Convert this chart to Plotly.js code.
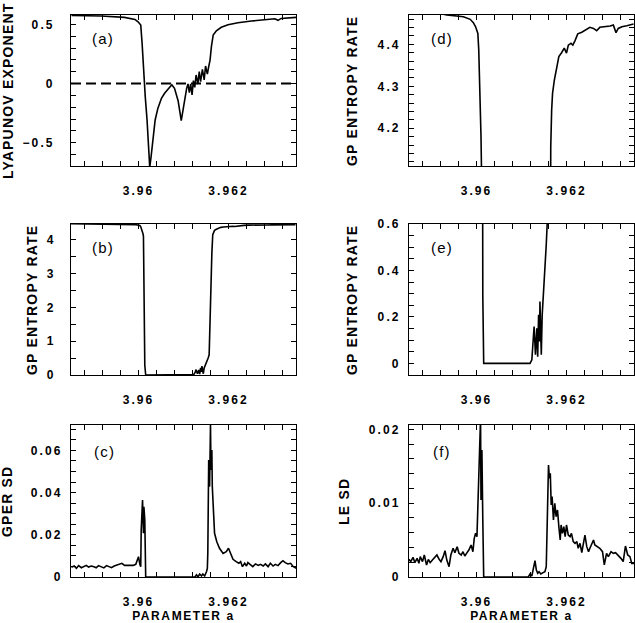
<!DOCTYPE html>
<html>
<head>
<meta charset="utf-8">
<script src="https://cdn.plot.ly/plotly-3.0.1.min.js"></script>
<style>
  html, body { margin: 0; padding: 0; background: #fff; }
  #chart { width: 635px; height: 623px; }
  g[class$="tick"] > text { letter-spacing: 2.1px; }
  text[class$="title"] { letter-spacing: 1.6px; }
  .annotation-text { letter-spacing: 1.2px; }
</style>
</head>
<body>
<div id="chart"></div>
<script>
// ---- x tick spacing (shared) ----
const xMajorStep = 0.002;
const xMinorStep = 0.0004;

// ---- (a) Lyapunov exponent ----
const lyapX = [3.95851, 3.95917, 3.95969, 3.95992, 3.95999, 3.96005, 3.96008, 3.96012, 3.96015, 3.96019,
  3.96022, 3.96025, 3.96028, 3.96032, 3.96037, 3.96043, 3.96051, 3.96058, 3.96066, 3.96074,
  3.96080, 3.96088, 3.96095, 3.96099, 3.96103, 3.96107, 3.96110, 3.96113, 3.96116, 3.96119,
  3.96122, 3.96125, 3.96128, 3.96132, 3.96135, 3.96138, 3.96142, 3.96146, 3.96149, 3.96153,
  3.96156, 3.96159, 3.96162, 3.96166, 3.96173, 3.96184, 3.96199, 3.96221, 3.96251, 3.96280,
  3.96303, 3.96310, 3.96317, 3.96351];
const lyapY = [0.575, 0.570, 0.559, 0.542, 0.522, 0.494, 0.340, 0.057, -0.111, -0.308,
  -0.534, -0.708, -0.618, -0.449, -0.308, -0.210, -0.125, -0.083, -0.046, -0.010,
  -0.041, -0.145, -0.314, -0.224, -0.117, -0.041, -0.004, -0.078, -0.004, -0.097,
  0.024, -0.032, 0.072, -0.004, 0.100, 0.015, 0.120, 0.030, 0.148, 0.080,
  0.142, 0.198, 0.311, 0.410, 0.446, 0.475, 0.497, 0.514, 0.528, 0.539,
  0.547, 0.534, 0.550, 0.559];

// ---- (b), (d), (e) GP entropy rate ----
const gpX = [3.95850, 3.95880, 3.95910, 3.95934, 3.95952, 3.95971, 3.95986, 3.95993, 3.95998, 3.96003,
  3.96005, 3.96007, 3.96009, 3.96010, 3.96011, 3.96012, 3.96013, 3.96014, 3.96016, 3.96060,
  3.96100, 3.96119, 3.96123, 3.96126, 3.96128, 3.96131, 3.96134, 3.96136, 3.96138, 3.96140,
  3.96141, 3.96143, 3.96144, 3.96146, 3.96148, 3.96151, 3.96154, 3.96155, 3.96157, 3.96160,
  3.96163, 3.96165, 3.96167, 3.96169, 3.96173, 3.96178, 3.96183, 3.96189, 3.96195, 3.96200,
  3.96204, 3.96210, 3.96214, 3.96219, 3.96225, 3.96234, 3.96245, 3.96252, 3.96260, 3.96267,
  3.96274, 3.96286, 3.96297, 3.96304, 3.96310, 3.96315, 3.96323, 3.96334, 3.96349];
const gpY = [4.478, 4.477, 4.476, 4.470, 4.4676, 4.466, 4.4597, 4.4517, 4.442, 4.426,
  4.387, 4.323, 4.243, 4.180, 4.108, 3.0, 1.5, 0.29, 0.0, 0.0,
  0.0, 0.0, 0.015, 0.087, 0.159, 0.037, 0.151, 0.029, 0.209, 0.094,
  0.266, 0.108, 0.037, 0.209, 0.266, 0.381, 0.439, 0.511, 0.597, 2.4,
  3.6, 4.156, 4.243, 4.283, 4.315, 4.347, 4.371, 4.380, 4.391, 4.379,
  4.398, 4.4025, 4.398, 4.409, 4.425, 4.429, 4.436, 4.4406, 4.438, 4.4326,
  4.4406, 4.442, 4.4438, 4.446, 4.428, 4.438, 4.442, 4.4445, 4.4485];

// ---- (c) GPER SD ----
const gperX = [3.95851, 3.95857, 3.95862, 3.95867, 3.95873, 3.95879, 3.95884, 3.95889, 3.95895, 3.95901,
  3.95906, 3.95911, 3.95917, 3.95923, 3.95929, 3.95934, 3.95940, 3.95946, 3.95951, 3.95958,
  3.95963, 3.95969, 3.95975, 3.95981, 3.95988, 3.95994, 3.95997, 3.96000, 3.96003, 3.96005,
  3.96006, 3.96009, 3.96011, 3.96012, 3.96014, 3.96015, 3.96016, 3.96060, 3.96100, 3.96125,
  3.96129, 3.96132, 3.96136, 3.96140, 3.96143, 3.96147, 3.96151, 3.96153, 3.96154, 3.96156,
  3.96158, 3.96160, 3.96161, 3.96163, 3.96164, 3.96166, 3.96169, 3.96174, 3.96180, 3.96188,
  3.96195, 3.96200, 3.96205, 3.96210, 3.96217, 3.96223, 3.96227, 3.96231, 3.96236, 3.96240,
  3.96243, 3.96249, 3.96254, 3.96260, 3.96266, 3.96271, 3.96277, 3.96282, 3.96288, 3.96293,
  3.96299, 3.96304, 3.96310, 3.96316, 3.96321, 3.96326, 3.96332, 3.96338, 3.96344, 3.96351];
const gperY = [0.0046, 0.0052, 0.0041, 0.0054, 0.0044, 0.0049, 0.0055, 0.0047, 0.0052, 0.0049,
  0.0044, 0.0054, 0.0047, 0.0043, 0.0054, 0.0049, 0.0044, 0.0052, 0.0055, 0.0062,
  0.0065, 0.0055, 0.0054, 0.0054, 0.0055, 0.0060, 0.0074, 0.0096, 0.0060, 0.0049,
  0.0223, 0.0365, 0.0207, 0.0333, 0.0270, 0.0160, 0.0, 0.0, 0.0, 0.0,
  0.0010, 0.0, 0.0014, 0.0005, 0.0014, 0.0005, 0.0025, 0.0041, 0.0112, 0.0554,
  0.0428, 0.0725, 0.0507, 0.0602, 0.0428, 0.0302, 0.0207, 0.0167, 0.0136, 0.0112,
  0.0120, 0.0136, 0.0112, 0.0084, 0.0073, 0.0065, 0.0073, 0.0049, 0.0065, 0.0052,
  0.0068, 0.0057, 0.0049, 0.0062, 0.0055, 0.0060, 0.0052, 0.0062, 0.0049, 0.0065,
  0.0052, 0.0060, 0.0054, 0.0068, 0.0077, 0.0068, 0.0062, 0.0065, 0.0049, 0.0041];

// ---- (f) LE SD ----
const leX = [3.95850, 3.95854, 3.95859, 3.95863, 3.95868, 3.95872, 3.95875, 3.95880, 3.95884, 3.95889,
  3.95893, 3.95897, 3.95902, 3.95908, 3.95912, 3.95917, 3.95921, 3.95926, 3.95930, 3.95934,
  3.95939, 3.95943, 3.95948, 3.95952, 3.95957, 3.95961, 3.95966, 3.95970, 3.95974, 3.95979,
  3.95983, 3.95988, 3.95992, 3.95995, 3.95998, 3.96001, 3.96004, 3.96006, 3.96009, 3.96010,
  3.96012, 3.96014, 3.96015, 3.96016, 3.96060, 3.96115, 3.96119, 3.96123, 3.96126, 3.96130,
  3.96133, 3.96136, 3.96139, 3.96143, 3.96148, 3.96152, 3.96155, 3.96157, 3.96160, 3.96162,
  3.96164, 3.96166, 3.96168, 3.96171, 3.96174, 3.96177, 3.96180, 3.96183, 3.96186, 3.96188,
  3.96191, 3.96194, 3.96197, 3.96200, 3.96204, 3.96208, 3.96211, 3.96215, 3.96219, 3.96223,
  3.96226, 3.96230, 3.96234, 3.96237, 3.96241, 3.96245, 3.96249, 3.96252, 3.96256, 3.96260,
  3.96263, 3.96269, 3.96274, 3.96280, 3.96284, 3.96289, 3.96293, 3.96299, 3.96304, 3.96309,
  3.96315, 3.96321, 3.96326, 3.96331, 3.96336, 3.96341, 3.96345, 3.96351];
const leY = [0.00239, 0.00208, 0.00267, 0.00194, 0.00253, 0.00185, 0.00276, 0.00208, 0.00298, 0.00163,
  0.00239, 0.00194, 0.00230, 0.00267, 0.00298, 0.00239, 0.00208, 0.00276, 0.00357, 0.00230,
  0.00140, 0.00298, 0.00389, 0.00330, 0.00411, 0.00321, 0.00298, 0.00343, 0.00285, 0.00330,
  0.00366, 0.00434, 0.00343, 0.00524, 0.00592, 0.00547, 0.01134, 0.01540, 0.0215, 0.01043,
  0.01721, 0.00772, 0.00140, 0.0, 0.0, 0.0, 0.00041, 0.00014, 0.00104, 0.00221,
  0.00095, 0.00050, 0.00072, 0.00041, 0.00059, 0.00072, 0.00140, 0.00772, 0.01518, 0.01337,
  0.01405, 0.00976, 0.01089, 0.00772, 0.00998, 0.00818, 0.00908, 0.00682, 0.00501, 0.00705,
  0.00592, 0.00682, 0.00547, 0.00705, 0.00569, 0.00547, 0.00592, 0.00479, 0.00456, 0.00479,
  0.00389, 0.00456, 0.00330, 0.00434, 0.00569, 0.00411, 0.00343, 0.00389, 0.00456, 0.00501,
  0.00434, 0.00411, 0.00389, 0.00343, 0.00163, 0.00321, 0.00276, 0.00343, 0.00321, 0.00330,
  0.00298, 0.00253, 0.00208, 0.00420, 0.00298, 0.00276, 0.00185, 0.00185];

// ---- text ----
const panelLabels = ['(a)', '(b)', '(c)', '(d)', '(e)', '(f)'];
const yTitles = ['LYAPUNOV EXPONENT', 'GP ENTROPY RATE', 'GPER SD', 'GP ENTROPY RATE', 'GP ENTROPY RATE', 'LE SD'];
const xTitle = 'PARAMETER a';

// ---- styling ----
const FONT = 'Liberation Sans, Arial, Helvetica, sans-serif';
const W = 635, H = 623;
const colL = [71 / W, 296 / W], colR = [409 / W, 634 / W];
const row1 = [1 - 166 / H, 1 - 15 / H], row2 = [1 - 375 / H, 1 - 224 / H], row3 = [1 - 577 / H, 1 - 425 / H];
const tickFont = {family: FONT, size: 12, color: '#000', weight: 'bold'};

function xAx(domain, anchor, title) {
  const a = {
    domain: domain, anchor: anchor, range: [3.9585, 3.9635],
    tickmode: 'linear', tick0: 3.96, dtick: xMajorStep,
    ticks: 'inside', ticklen: 5, tickwidth: 1, tickcolor: '#000',
    minor: {ticks: 'inside', dtick: xMinorStep, tick0: 3.96, ticklen: 5, tickwidth: 1, tickcolor: '#000', showgrid: false},
    showline: true, linecolor: '#000', linewidth: 1, mirror: 'ticks',
    showgrid: false, zeroline: false, fixedrange: true,
    tickfont: tickFont, ticklabelstandoff: 14
  };
  if (title) a.title = {text: title, font: {family: FONT, size: 12, color: '#000', weight: 'bold'}, standoff: 12};
  return a;
}
function yAx(domain, anchor, range, dtick, minorDtick, tlsoff) {
  return {
    domain: domain, anchor: anchor, range: range,
    tickmode: 'linear', tick0: 0, dtick: dtick,
    ticks: 'inside', ticklen: 5, tickwidth: 1, tickcolor: '#000',
    minor: {ticks: 'inside', dtick: minorDtick, tick0: 0, ticklen: 5, tickwidth: 1, tickcolor: '#000', showgrid: false},
    showline: true, linecolor: '#000', linewidth: 1, mirror: 'ticks',
    showgrid: false, zeroline: false, fixedrange: true,
    tickfont: tickFont, ticklabelstandoff: tlsoff
  };
}

const line = {color: '#000', width: 1.6};
const traces = [
  {x: lyapX, y: lyapY, xaxis: 'x', yaxis: 'y', mode: 'lines', line: line, hoverinfo: 'skip'},
  {x: gpX, y: gpY, xaxis: 'x2', yaxis: 'y2', mode: 'lines', line: line, hoverinfo: 'skip'},
  {x: gperX, y: gperY, xaxis: 'x3', yaxis: 'y3', mode: 'lines', line: line, hoverinfo: 'skip'},
  {x: gpX, y: gpY, xaxis: 'x4', yaxis: 'y4', mode: 'lines', line: line, hoverinfo: 'skip'},
  {x: gpX, y: gpY, xaxis: 'x5', yaxis: 'y5', mode: 'lines', line: line, hoverinfo: 'skip'},
  {x: leX, y: leY, xaxis: 'x6', yaxis: 'y6', mode: 'lines', line: line, hoverinfo: 'skip'}
];

const labelPos = [[103, 39], [103, 248], [104, 451], [442, 39], [442, 248], [442, 451]];
const yTitlePos = [[8, 91], [32, 300], [7, 502], [352, 91], [352, 300], [344, 502]];

const annotations = panelLabels.map((t, i) => ({
  text: t, xref: 'paper', yref: 'paper',
  x: labelPos[i][0] / W, y: 1 - labelPos[i][1] / H,
  xanchor: 'center', yanchor: 'middle', showarrow: false,
  font: {family: FONT, size: 15, color: '#000'}
})).concat(yTitles.map((t, i) => ({
  text: t, xref: 'paper', yref: 'paper', textangle: -90,
  x: yTitlePos[i][0] / W, y: 1 - yTitlePos[i][1] / H,
  xanchor: 'center', yanchor: 'middle', showarrow: false,
  font: {family: FONT, size: 14, color: '#000', weight: 'bold'}
})));

const layout = {
  width: W, height: H,
  margin: {l: 0, r: 0, t: 0, b: 0, pad: 0},
  paper_bgcolor: '#fff', plot_bgcolor: '#fff',
  showlegend: false,
  font: {family: FONT, color: '#000'},
  xaxis: xAx(colL, 'y'),
  xaxis2: xAx(colL, 'y2'),
  xaxis3: xAx(colL, 'y3', xTitle),
  xaxis4: xAx(colR, 'y4'),
  xaxis5: xAx(colR, 'y5'),
  xaxis6: xAx(colR, 'y6', xTitle),
  yaxis: yAx(row1, 'x', [-0.697, 0.579], 0.5, 0.1, 13),
  yaxis2: yAx(row2, 'x2', [0, 4.47], 1, 0.5, 12),
  yaxis3: yAx(row3, 'x3', [0, 0.072], 0.02, 0.005, 5),
  yaxis4: yAx(row1, 'x4', [4.11, 4.47], 0.1, 0.02, 5),
  yaxis5: yAx(row2, 'x5', [-0.05, 0.6], 0.2, 0.05, 5),
  yaxis6: yAx(row3, 'x6', [0, 0.0206], 0.01, 0.002, 5),
  shapes: [{type: 'line', xref: 'x domain', yref: 'y', x0: 0, x1: 1, y0: 0, y1: 0,
            line: {color: '#000', width: 2, dash: '10px,5px'}}],
  annotations: annotations
};

Plotly.newPlot('chart', traces, layout, {staticPlot: true, displayModeBar: false});
</script>
</body>
</html>
